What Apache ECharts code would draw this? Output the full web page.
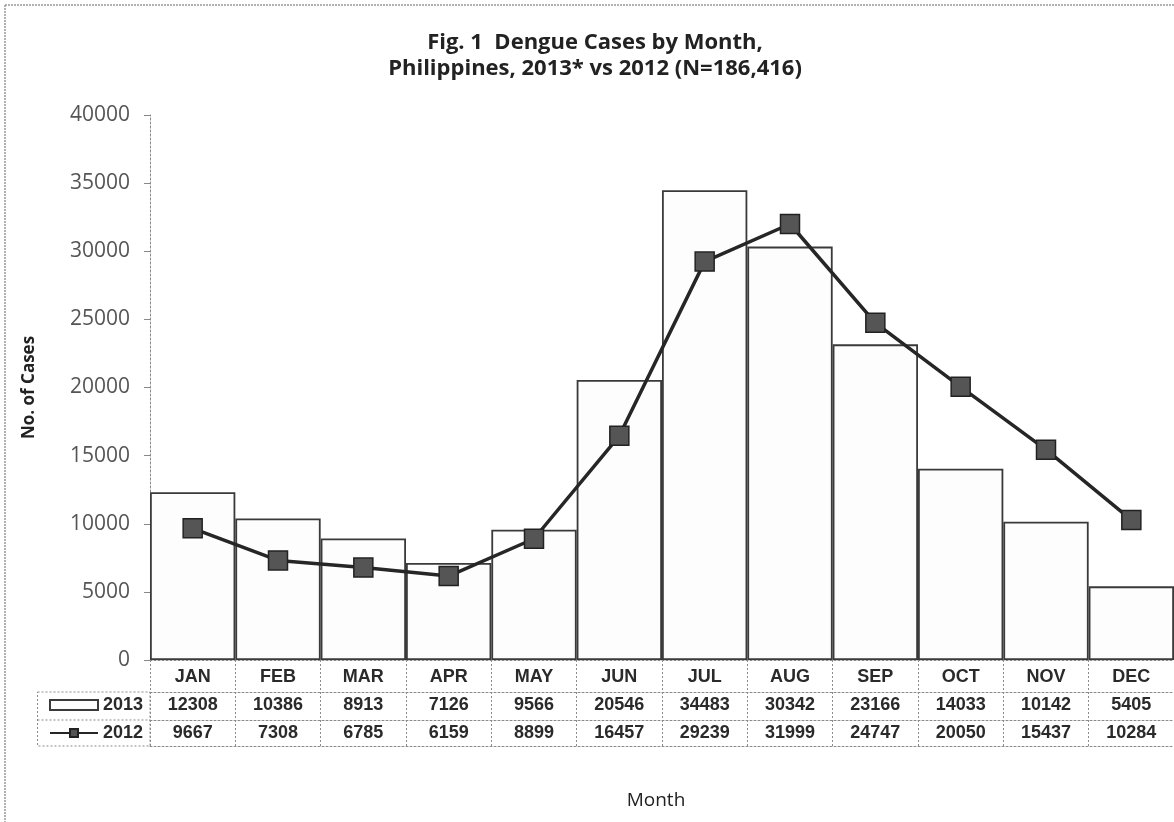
<!DOCTYPE html>
<html>
<head>
<meta charset="utf-8">
<script src="https://cdn.jsdelivr.net/npm/echarts@6/dist/echarts.min.js"></script>
<style>
  html, body { margin: 0; padding: 0; background: #fff; }
  #chart { width: 1174px; height: 822px; }
</style>
</head>
<body>
<div id="chart"></div>
<script>
// data (data table under the plot)
const months = ['JAN', 'FEB', 'MAR', 'APR', 'MAY', 'JUN', 'JUL', 'AUG', 'SEP', 'OCT', 'NOV', 'DEC']
const cases2013 = [12308, 10386, 8913, 7126, 9566, 20546, 34483, 30342, 23166, 14033, 10142, 5405]
const cases2012 = [9667, 7308, 6785, 6159, 8899, 16457, 29239, 31999, 24747, 20050, 15437, 10284]
const yTicks = [0, 5000, 10000, 15000, 20000, 25000, 30000, 35000, 40000]

const chart = echarts.init(document.getElementById('chart'))

const dotted = { color: '#8a8a8a', width: 1, type: [2, 2] }
const tableFont = { fontFamily: 'Liberation Sans', fontWeight: 'bold', fontSize: 18, color: '#2a2a2a' }

// one category axis per table row, the axis line is the row border
function tableRow(values, offset) {
  return {
    type: 'category',
    position: 'bottom',
    offset: offset,
    data: values.map(v => String(v)),
    axisLine: { show: true, lineStyle: dotted },
    axisTick: { show: false },
    axisLabel: Object.assign({ margin: 4, interval: 0 }, tableFont)
  }
}

chart.setOption({
  animation: false,
  backgroundColor: '#fff',
  title: [{
    text: 'Fig. 1  Dengue Cases by Month,\nPhilippines, 2013* vs 2012 (N=186,416)',
    left: 590,
    top: 25,
    textAlign: 'center',
    textStyle: { fontFamily: 'Open Sans', fontWeight: 'bold', fontSize: 22, color: '#222', lineHeight: 26 }
  }, {
    text: 'Month',
    left: 651,
    top: 786,
    textAlign: 'center',
    textStyle: { fontFamily: 'Open Sans', fontWeight: 'normal', fontSize: 19, color: '#222' }
  }],
  legend: {
    orient: 'vertical',
    left: 44,
    top: 691,
    itemWidth: 48,
    itemHeight: 10,
    itemGap: 10,
    textStyle: tableFont,
    data: [
      { name: '2013', icon: 'rect' },
      { name: '2012' }
    ]
  },
  grid: { left: 150, top: 115, width: 1027, bottom: 162, containLabel: false },
  xAxis: [
    {
      type: 'category',
      data: months,
      axisLine: { show: true, lineStyle: dotted },
      axisTick: { show: true, length: 86, lineStyle: dotted },
      axisLabel: Object.assign({ margin: 8, interval: 0 }, tableFont)
    },
    tableRow(cases2013, 32),
    tableRow(cases2012, 60),
    {
      type: 'category',
      position: 'bottom',
      offset: 86,
      data: months,
      axisLine: { show: true, lineStyle: dotted },
      axisTick: { show: false },
      axisLabel: { show: false }
    }
  ],
  yAxis: {
    type: 'value',
    min: yTicks[0],
    max: yTicks[yTicks.length - 1],
    interval: 5000,
    name: 'No. of Cases',
    nameLocation: 'middle',
    nameRotate: 90,
    nameGap: 112,
    nameTextStyle: { fontFamily: 'Open Sans', fontWeight: 'bold', fontSize: 17, color: '#222' },
    axisLine: { show: true, lineStyle: dotted },
    axisTick: { show: true, length: 6, lineStyle: { color: '#888' } },
    splitLine: { show: false },
    axisLabel: {
      fontFamily: 'Open Sans', fontSize: 21, color: '#555', margin: 20,
      formatter: v => String(v)
    }
  },
  series: [
    {
      name: '2013',
      type: 'bar',
      data: cases2013,
      barCategoryGap: '0%',
      itemStyle: { color: '#fdfdfd', borderColor: '#3a3a3a', borderWidth: 1.8 },
      z: 2
    },
    {
      name: '2012',
      type: 'line',
      data: cases2012,
      symbol: 'rect',
      symbolSize: 19,
      lineStyle: { color: '#262626', width: 3.5 },
      itemStyle: { color: '#555', borderColor: '#222', borderWidth: 1.5 },
      z: 5
    }
  ],
  graphic: [
    // outer border of the scanned figure
    { type: 'line', shape: { x1: 5, y1: 5, x2: 1174, y2: 5 }, style: { stroke: '#999', lineWidth: 1.5, lineDash: [2, 1] } },
    { type: 'line', shape: { x1: 5, y1: 5, x2: 5, y2: 822 }, style: { stroke: '#999', lineWidth: 1.5, lineDash: [2, 1] } },
    // legend cells of the data table
    { type: 'rect', shape: { x: 37.5, y: 692, width: 112.5, height: 54 }, style: { fill: 'none', stroke: '#8a8a8a', lineWidth: 1, lineDash: [2, 2] } },
    { type: 'line', shape: { x1: 37.5, y1: 720, x2: 150, y2: 720 }, style: { stroke: '#8a8a8a', lineWidth: 1, lineDash: [2, 2] } }
  ]
})
</script>
</body>
</html>
